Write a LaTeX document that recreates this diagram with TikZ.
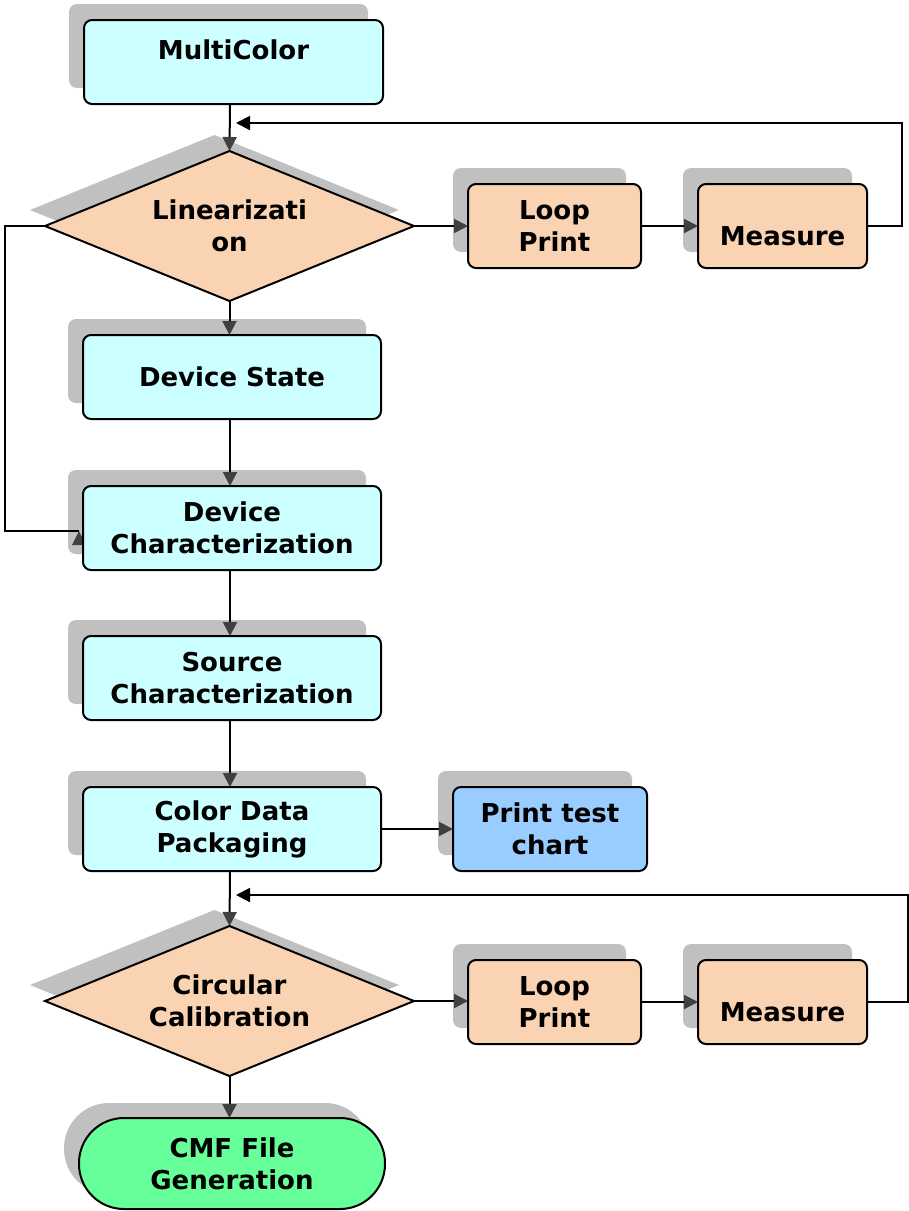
\documentclass[tikz,border=0pt]{standalone}
\usepackage{fontspec}
\setmainfont{DejaVu Sans}
\usetikzlibrary{arrows.meta,shapes.geometric}
\definecolor{cyanbox}{HTML}{CCFFFF}
\definecolor{peach}{HTML}{FAD4B2}
\definecolor{chartblue}{HTML}{99CCFF}
\definecolor{mint}{HTML}{66FF99}
\definecolor{shade}{HTML}{C0C0C0}
\definecolor{tipgray}{HTML}{404040}
\pgfdeclarelayer{shadowlayer}
\pgfdeclarelayer{edgelayer}
\pgfsetlayers{shadowlayer,edgelayer,main}

\begin{document}
\begin{tikzpicture}[x=1pt,y=-1pt,
  every node/.style={font=\bfseries\fontsize{26}{32}\selectfont, align=center, inner sep=0pt, outer sep=0pt},
  stepbox/.style={rectangle, draw=black, line width=2pt, rounded corners=8pt},
  procbox/.style={stepbox, fill=cyanbox, minimum width=298pt, minimum height=84pt},
  loopbox/.style={stepbox, fill=peach, minimum height=84pt},
  decision/.style={diamond, shape aspect=2.46, draw=black, line width=2pt, fill=peach,
                   minimum width=369pt, minimum height=150pt},
  label/.style={},
  flow/.style={line width=2pt, -{Triangle[length=14pt,width=14pt,color=tipgray]}},
  back/.style={line width=2pt, -{Triangle[length=14pt,width=14pt]}},
  shadowfill/.style={fill=shade},
]
\useasboundingbox (0,0) rectangle (909,1211);

% main column
\coordinate (axis) at (230,0);
\node[stepbox, fill=cyanbox, minimum width=299pt, minimum height=84pt] (mc) at (233.5,62) {};
\node[label] (mctext) at (233.5,50) {MultiColor};
\node[decision] (lin) at (229.5,226) {Linearizati\\on};
\node[procbox] (ds) at (232,377) {Device State};
\node[procbox] (dc) at (232,528) {Device\\Characterization};
\node[procbox] (sc) at (232,678) {Source\\Characterization};
\node[procbox] (cdp) at (232,829) {Color Data\\Packaging};
\node[stepbox, fill=chartblue, minimum width=194pt, minimum height=84pt] (ptc) at (550,829) {Print test\\chart};
\node[decision] (cc) at (229.5,1001) {Circular\\Calibration};
\node[rectangle, draw=black, line width=2pt, rounded corners=45pt, fill=mint,
      minimum width=306pt, minimum height=91pt] (cmf) at (232,1163.5) {CMF File\\Generation};

% linearization loop
\node[loopbox, minimum width=173pt] (lp1) at (554.5,226) {Loop\\Print};
\node[loopbox, minimum width=169pt] (ms1) at (782.5,226) {};
\node[label] (ms1text) at (782.5,236) {Measure};

% calibration loop
\node[loopbox, minimum width=173pt] (lp2) at (554.5,1002) {Loop\\Print};
\node[loopbox, minimum width=169pt] (ms2) at (782.5,1002) {};
\node[label] (ms2text) at (782.5,1012) {Measure};

% drop shadows
\begin{pgfonlayer}{shadowlayer}
  \foreach \n in {mc,ds,dc,sc,cdp,ptc,lp1,ms1,lp2,ms2}
    \fill[shadowfill, rounded corners=8pt]
      ([shift={(-15,-16)}]\n.south west) rectangle ([shift={(-15,-16)}]\n.north east);
  \foreach \n in {lin,cc}
    \fill[shadowfill] ([shift={(-15,-16)}]\n.north) -- ([shift={(-15,-16)}]\n.east)
      -- ([shift={(-15,-16)}]\n.south) -- ([shift={(-15,-16)}]\n.west) -- cycle;
  \fill[shadowfill, rounded corners=45pt]
    ([shift={(-15,-15)}]cmf.south west) rectangle ([shift={(-15,-15)}]cmf.north east);
\end{pgfonlayer}

% connectors
\coordinate (fb1) at (236,123);
\coordinate (fb2) at (236,895);
\coordinate (dcin) at (79,531);
\begin{pgfonlayer}{edgelayer}
  \draw[flow] (mc.south -| axis) -- (lin.north);
  \draw[flow] (lin.east) -- (lp1.west);
  \draw[flow] (lp1.east) -- (ms1.west);
  \draw[back] (ms1.east) -- ++(35,0) |- (fb1);
  \draw[line width=2pt] (lin.west) -- ++(-40,0) |- (dcin);
  \fill[tipgray] (dcin) -- ++(-7,14) -- ++(14,0) -- cycle;
  \draw[flow] (lin.south) -- (lin.south |- ds.north);
  \draw[flow] (ds.south -| axis) -- (dc.north -| axis);
  \draw[flow] (dc.south -| axis) -- (sc.north -| axis);
  \draw[flow] (sc.south -| axis) -- (cdp.north -| axis);
  \draw[flow] (cdp.east) -- (ptc.west);
  \draw[flow] (cdp.south -| axis) -- (cc.north);
  \draw[flow] (cc.east) -- (cc.east -| lp2.west);
  \draw[flow] (lp2.east) -- (ms2.west);
  \draw[back] (ms2.east) -- ++(41,0) |- (fb2);
  \draw[flow] (cc.south) -- (cc.south |- cmf.north);
\end{pgfonlayer}
\end{tikzpicture}
\end{document}
